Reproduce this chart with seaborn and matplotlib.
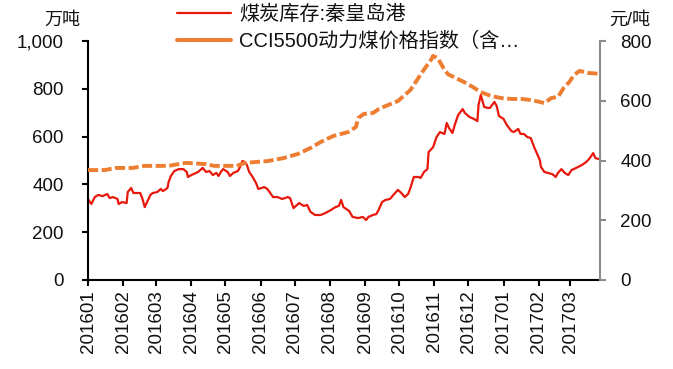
import matplotlib
matplotlib.use("Agg")
import matplotlib.pyplot as plt
import matplotlib.dates as mdates
from matplotlib.lines import Line2D
import pandas as pd
import seaborn as sns

# Qinhuangdao port coal stock (10k tonnes), left axis
stock_dates = [
    "2016-01-01", "2016-01-04", "2016-01-07", "2016-01-10", "2016-01-14", "2016-01-18",
    "2016-01-20", "2016-01-23", "2016-01-27", "2016-01-28", "2016-01-31", "2016-02-04",
    "2016-02-05", "2016-02-08", "2016-02-10", "2016-02-13", "2016-02-16", "2016-02-18",
    "2016-02-20", "2016-02-23", "2016-02-25", "2016-02-27", "2016-03-02", "2016-03-05",
    "2016-03-07", "2016-03-11", "2016-03-12", "2016-03-14", "2016-03-17", "2016-03-21",
    "2016-03-25", "2016-03-28", "2016-03-29", "2016-04-01", "2016-04-05", "2016-04-07",
    "2016-04-11", "2016-04-14", "2016-04-17", "2016-04-20", "2016-04-23", "2016-04-25",
    "2016-04-27", "2016-04-29", "2016-05-03", "2016-05-05", "2016-05-08", "2016-05-12",
    "2016-05-14", "2016-05-16", "2016-05-18", "2016-05-20", "2016-05-22", "2016-05-25",
    "2016-05-28", "2016-05-30", "2016-06-02", "2016-06-04", "2016-06-07", "2016-06-12",
    "2016-06-16", "2016-06-20", "2016-06-25", "2016-06-27", "2016-06-30", "2016-07-05",
    "2016-07-09", "2016-07-12", "2016-07-15", "2016-07-19", "2016-07-24", "2016-07-28",
    "2016-08-02", "2016-08-06", "2016-08-09", "2016-08-11", "2016-08-13", "2016-08-18",
    "2016-08-21", "2016-08-26", "2016-08-30", "2016-09-02", "2016-09-04", "2016-09-08",
    "2016-09-11", "2016-09-13", "2016-09-16", "2016-09-19", "2016-09-23", "2016-09-26",
    "2016-09-30", "2016-10-03", "2016-10-06", "2016-10-09", "2016-10-11", "2016-10-14",
    "2016-10-18", "2016-10-20", "2016-10-23", "2016-10-26", "2016-10-27", "2016-10-31",
    "2016-11-03", "2016-11-06", "2016-11-10", "2016-11-12", "2016-11-14", "2016-11-17",
    "2016-11-19", "2016-11-22", "2016-11-26", "2016-11-28", "2016-12-02", "2016-12-06",
    "2016-12-09", "2016-12-10", "2016-12-12", "2016-12-15", "2016-12-18", "2016-12-20",
    "2016-12-24", "2016-12-26", "2016-12-28", "2017-01-01", "2017-01-04", "2017-01-08",
    "2017-01-10", "2017-01-14", "2017-01-16", "2017-01-19", "2017-01-22", "2017-01-25",
    "2017-01-28", "2017-01-31", "2017-02-02", "2017-02-03", "2017-02-06", "2017-02-09",
    "2017-02-13", "2017-02-16", "2017-02-18", "2017-02-21", "2017-02-24", "2017-02-27",
    "2017-03-02", "2017-03-06", "2017-03-11", "2017-03-15", "2017-03-18", "2017-03-21",
    "2017-03-23", "2017-03-26", "2017-03-27",
]
stock_values = [
    338, 318, 347, 356, 351, 360,
    343, 347, 339, 318, 326, 322,
    368, 385, 364, 364, 364, 339,
    305, 335, 356, 364, 368, 381,
    372, 385, 410, 435, 456, 464,
    464, 452, 431, 439, 448, 452,
    469, 452, 456, 439, 448, 435,
    452, 464, 452, 435, 448, 456,
    473, 498, 494, 481, 452, 431,
    406, 381, 385, 389, 381, 347,
    347, 339, 347, 343, 301, 322,
    310, 314, 285, 272, 272, 280,
    293, 305, 310, 335, 305, 289,
    264, 259, 264, 251, 264, 272,
    276, 293, 326, 335, 339, 356,
    377, 364, 347, 360, 385, 431,
    431, 427, 452, 464, 535, 556,
    598, 619, 611, 657, 636, 615,
    648, 690, 715, 699, 682, 674,
    665, 732, 774, 724, 720, 720,
    745, 728, 686, 674, 648, 623,
    619, 632, 611, 611, 598, 594,
    556, 523, 502, 473, 452, 448,
    443, 431, 448, 464, 448, 439,
    460, 469, 481, 494, 510, 531,
    510, 506, 506,
]

# CCI5500 thermal coal price index (yuan/tonne), right axis
price_dates = [
    "2016-01-01", "2016-01-16", "2016-01-25", "2016-02-09", "2016-02-20", "2016-03-12",
    "2016-03-27", "2016-04-14", "2016-04-21", "2016-05-11", "2016-05-18", "2016-05-28",
    "2016-06-07", "2016-06-21", "2016-07-04", "2016-07-15", "2016-07-24", "2016-08-04",
    "2016-08-17", "2016-08-24", "2016-08-26", "2016-08-31", "2016-09-08", "2016-09-13",
    "2016-09-19", "2016-09-30", "2016-10-03", "2016-10-11", "2016-10-18", "2016-10-24",
    "2016-10-29", "2016-10-31", "2016-11-04", "2016-11-09", "2016-11-13", "2016-11-20",
    "2016-11-27", "2016-12-05", "2016-12-12", "2016-12-21", "2016-12-30", "2017-01-08",
    "2017-01-17", "2017-01-26", "2017-02-02", "2017-02-06", "2017-02-12", "2017-02-18",
    "2017-02-23", "2017-02-28", "2017-03-04", "2017-03-09", "2017-03-17", "2017-03-27",
]
price_values = [
    368, 368, 375, 375, 382, 382,
    392, 388, 382, 382, 392, 395,
    398, 408, 422, 442, 462, 482,
    495, 512, 542, 556, 559, 572,
    582, 599, 609, 636, 676, 710,
    736, 750, 743, 710, 689, 676,
    663, 646, 629, 616, 609, 606,
    606, 602, 596, 592, 609, 613,
    643, 663, 686, 700, 693, 690,
]

stock_label = "煤炭库存:秦皇岛港"
price_label = "CCI5500动力煤价格指数（含…"
left_unit = "万吨"
right_unit = "元/吨"
left_ticks = [0, 200, 400, 600, 800, 1000]
right_ticks = [0, 200, 400, 600, 800]

RED = "#E8180C"
ORANGE = "#ED7D31"
GREY = "#8C8C8C"

sns.set_style("white")
plt.rcParams["font.family"] = ["Liberation Sans", "Noto Sans CJK SC"]

fig = plt.figure(figsize=(6.73, 3.69), dpi=100)
ax = fig.add_axes([88 / 673, 89 / 369, 512 / 673, 239 / 369])
ax2 = ax.twinx()

stock = pd.DataFrame({"date": pd.to_datetime(stock_dates), "value": stock_values})
price = pd.DataFrame({"date": pd.to_datetime(price_dates), "value": price_values})

sns.lineplot(data=stock, x="date", y="value", ax=ax, color=RED, linewidth=1.6)
sns.lineplot(data=price, x="date", y="value", ax=ax2, color=ORANGE, linewidth=2.8)
price_line = ax2.lines[0]
price_line.set_linestyle((0, (2.6, 0.9)))
price_line.set_dash_capstyle("butt")

# axes ranges and ticks
ax.set_xlim(pd.Timestamp("2016-01-01"), pd.Timestamp("2017-03-27"))
ax.set_ylim(0, 1000)
ax2.set_ylim(0, 800)
ax.set_yticks(left_ticks)
ax.set_yticklabels([f"{v:,}" for v in left_ticks])
ax2.set_yticks(right_ticks)
ax2.set_yticklabels([f"{v:,}" for v in right_ticks])
ax.xaxis.set_major_locator(mdates.MonthLocator())
ax.xaxis.set_major_formatter(mdates.DateFormatter("%Y%m"))
for a in (ax, ax2):
    a.set_xlabel("")
    a.set_ylabel("")
    a.grid(False)

ax.tick_params(axis="x", bottom=True, direction="out", length=4.5, width=1.5,
               color="black", pad=3, labelsize=13.5, labelrotation=90, labelcolor="#111111")
ax.tick_params(axis="y", left=True, direction="out", length=4.5, width=1.5,
               color="black", pad=13, labelsize=13.5, labelcolor="#111111")
ax2.tick_params(axis="y", right=True, direction="out", length=4.5, width=1.5,
                color=GREY, pad=10, labelsize=13.5, labelcolor="#111111")

for side in ("top", "right"):
    ax.spines[side].set_visible(False)
for side in ("top", "left", "bottom"):
    ax2.spines[side].set_visible(False)
ax.spines["left"].set_color("black")
ax.spines["left"].set_linewidth(1.5)
ax.spines["bottom"].set_color("black")
ax.spines["bottom"].set_linewidth(1.5)
ax2.spines["right"].set_color(GREY)
ax2.spines["right"].set_linewidth(1.5)

# unit labels above each y axis
fig.text(62 / 673, 1 - 20 / 369, left_unit, ha="center", va="center", fontsize=13, color="#111111")
fig.text(630 / 673, 1 - 20 / 369, right_unit, ha="center", va="center", fontsize=13, color="#111111")

handles = [
    Line2D([], [], color=RED, linewidth=1.6),
    Line2D([], [], color=ORANGE, linewidth=2.8),
]
fig.legend(handles, [stock_label, price_label], loc="upper left",
           bbox_to_anchor=(177 / 673, 1 - 5 / 369), frameon=False, fontsize=14.5,
           handlelength=2.7, handletextpad=0.4, labelspacing=0.35,
           borderpad=0, borderaxespad=0, labelcolor="#111111")

fig.savefig("out.png", dpi=100)
